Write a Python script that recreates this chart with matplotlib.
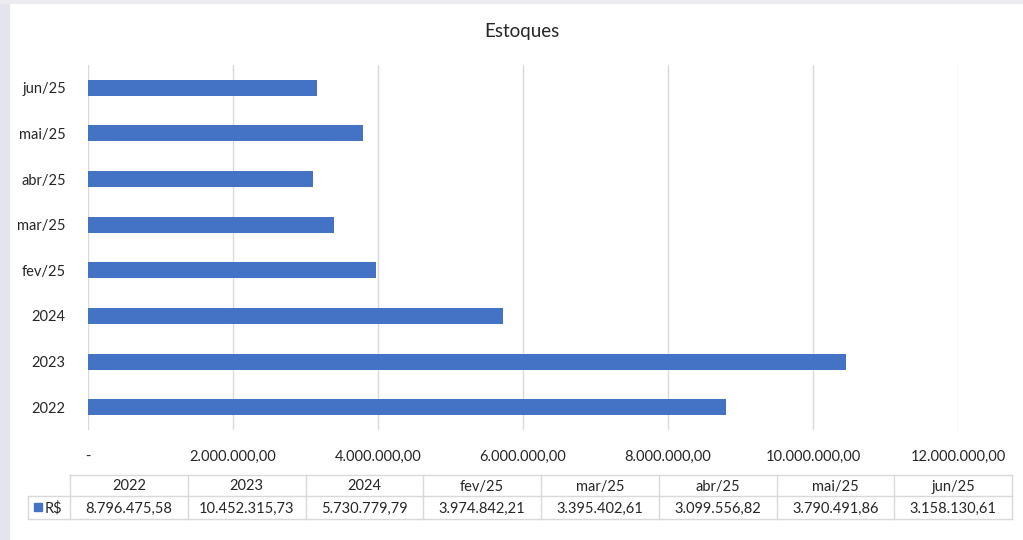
import matplotlib.pyplot as plt
from matplotlib.patches import Rectangle
from matplotlib.ticker import FuncFormatter

plt.rcParams['font.family'] = ['Lato', 'DejaVu Sans']

# data
categories = ['2022', '2023', '2024', 'fev/25', 'mar/25', 'abr/25', 'mai/25', 'jun/25']
values = [8796475.58, 10452315.73, 5730779.79, 3974842.21,
          3395402.61, 3099556.82, 3790491.86, 3158130.61]
x_ticks = [0, 2000000, 4000000, 6000000, 8000000, 10000000, 12000000]
series_name = 'R$'

BLUE = '#4472C4'
GRID = '#d9d9d9'
TXT = '#262626'


def br_fmt(v, pos=None):
    if v == 0:
        return '-'
    s = f'{v:,.2f}'
    return s.replace(',', 'X').replace('.', ',').replace('X', '.')


W, H = 1023, 540
fig = plt.figure(figsize=(W / 100, H / 100), dpi=100)

# overlay axes in pixel coords for frame / title / table
ov = fig.add_axes([0, 0, 1, 1])
ov.set_xlim(0, W)
ov.set_ylim(H, 0)
ov.axis('off')
ov.add_patch(Rectangle((0, 0), 9, H, color='#e4e4ec', zorder=0))
ov.add_patch(Rectangle((0, 0), W, 3, color='#ececf0', zorder=0))
ov.text(522, 31, 'Estoques', ha='center', va='center', fontsize=13.5, color=TXT)

# main bar chart
ax = fig.add_axes([88 / W, 1 - 430 / H, (958 - 88) / W, (430 - 65) / H])
ax.barh(range(len(categories)), values, height=0.35, color=BLUE, zorder=3)
ax.set_ylim(-0.5, len(categories) - 0.5)
ax.set_xlim(0, 12000000)
ax.set_yticks(range(len(categories)))
ax.set_yticklabels(categories, fontsize=10.5, color=TXT)
ax.set_xticks(x_ticks)
ax.xaxis.set_major_formatter(FuncFormatter(br_fmt))
ax.tick_params(axis='x', labelsize=10.5, colors=TXT, length=0, pad=14)
ax.tick_params(axis='y', length=0, pad=16)
ax.grid(axis='x', color=GRID, linewidth=1, zorder=0)
for s in ax.spines.values():
    s.set_visible(False)

# data table under chart
n = len(categories)
t_left, t_right = 70, 1012
cw = (t_right - t_left) / n
y0, y1, y2 = 475, 496, 519
lc = dict(color=GRID, linewidth=1)
ov.plot([t_left, t_right], [y0, y0], **lc)
ov.plot([28, t_right], [y1, y1], **lc)
ov.plot([28, t_right], [y2, y2], **lc)
ov.plot([28, 28], [y1, y2], **lc)
for i in range(n + 1):
    xx = t_left + i * cw
    ov.plot([xx, xx], [y0, y2], **lc)
for i, (c, v) in enumerate(zip(categories, values)):
    xc = t_left + (i + 0.5) * cw
    ov.text(xc, (y0 + y1) / 2 + 1, c, ha='center', va='center', fontsize=10.5, color=TXT)
    ov.text(xc, (y1 + y2) / 2 + 1, br_fmt(v), ha='center', va='center', fontsize=10.5, color=TXT)
ov.add_patch(Rectangle((34, 503), 8, 8, color=BLUE))
ov.text(45, (y1 + y2) / 2 + 1, series_name, ha='left', va='center', fontsize=10.5, color=TXT)

fig.savefig('out.png', dpi=100)
